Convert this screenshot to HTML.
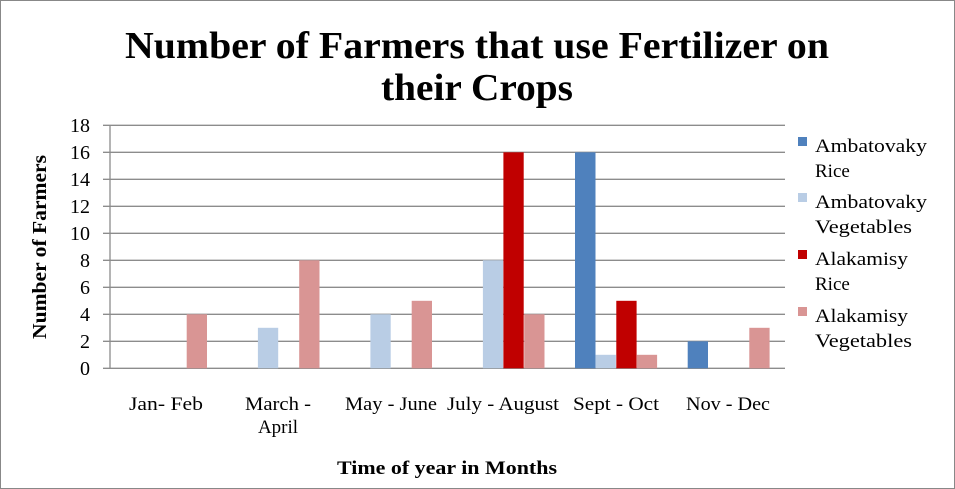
<!DOCTYPE html><html><head><style>body{margin:0;background:#fff}svg{display:block}text{font-family:"Liberation Serif",serif;fill:#000}</style></head><body>
<svg width="955" height="489" viewBox="0 0 955 489">
<rect x="0.5" y="0.5" width="954" height="488" fill="#fff" stroke="#888"/>
<text x="477" y="58" font-size="38" font-weight="bold" text-anchor="middle" textLength="704" lengthAdjust="spacingAndGlyphs">Number of Farmers that use Fertilizer on</text>
<text x="477" y="100" font-size="38" font-weight="bold" text-anchor="middle" textLength="192" lengthAdjust="spacingAndGlyphs">their Crops</text>
<g stroke="#8c8c8c" stroke-width="1.3">
<line x1="103" x2="785" y1="125.3" y2="125.3"/><line x1="103" x2="785" y1="152.3" y2="152.3"/><line x1="103" x2="785" y1="179.3" y2="179.3"/><line x1="103" x2="785" y1="206.3" y2="206.3"/><line x1="103" x2="785" y1="233.3" y2="233.3"/><line x1="103" x2="785" y1="260.3" y2="260.3"/><line x1="103" x2="785" y1="287.3" y2="287.3"/><line x1="103" x2="785" y1="314.3" y2="314.3"/><line x1="103" x2="785" y1="341.3" y2="341.3"/><line x1="103" x2="785" y1="368.3" y2="368.3"/>
<line x1="110" x2="110" y1="125" y2="368.3"/>
</g>
<g font-size="20" text-anchor="end">
<text x="90" y="132">18</text><text x="90" y="159">16</text><text x="90" y="186">14</text><text x="90" y="213">12</text><text x="90" y="240">10</text><text x="90" y="267">8</text><text x="90" y="294">6</text><text x="90" y="321">4</text><text x="90" y="348">2</text><text x="90" y="375">0</text>
</g>
<text transform="translate(46,247) rotate(-90)" font-size="20" font-weight="bold" text-anchor="middle" textLength="184" lengthAdjust="spacingAndGlyphs">Number of Farmers</text>
<g>
<rect x="186.7" y="314.3" width="20.3" height="54" fill="#d99594"/>
<rect x="257.9" y="327.8" width="20.3" height="40.5" fill="#b9cde5"/>
<rect x="299.2" y="260.3" width="20.3" height="108" fill="#d99594"/>
<rect x="370.4" y="314.3" width="20.3" height="54" fill="#b9cde5"/>
<rect x="411.7" y="300.8" width="20.3" height="67.5" fill="#d99594"/>
<rect x="482.9" y="260.3" width="20.3" height="108" fill="#b9cde5"/>
<rect x="503.4" y="152.3" width="20.3" height="216" fill="#c00000"/>
<rect x="524.2" y="314.3" width="20.3" height="54" fill="#d99594"/>
<rect x="575" y="152.3" width="20.5" height="216" fill="#4f81bd"/>
<rect x="595.6" y="354.8" width="20.3" height="13.5" fill="#b9cde5"/>
<rect x="616.3" y="300.8" width="20.3" height="67.5" fill="#c00000"/>
<rect x="636.8" y="354.8" width="20.3" height="13.5" fill="#d99594"/>
<rect x="687.7" y="341.3" width="20.3" height="27" fill="#4f81bd"/>
<rect x="749.3" y="327.8" width="20.3" height="40.5" fill="#d99594"/>
</g>
<g font-size="19" text-anchor="middle">
<text x="166" y="410" textLength="74" lengthAdjust="spacingAndGlyphs">Jan- Feb</text>
<text x="278" y="410" textLength="66" lengthAdjust="spacingAndGlyphs">March -</text><text x="278" y="433">April</text>
<text x="391" y="410" textLength="92" lengthAdjust="spacingAndGlyphs">May - June</text>
<text x="503" y="410" textLength="112" lengthAdjust="spacingAndGlyphs">July - August</text>
<text x="616" y="410" textLength="86" lengthAdjust="spacingAndGlyphs">Sept - Oct</text>
<text x="728" y="410" textLength="84" lengthAdjust="spacingAndGlyphs">Nov - Dec</text>
</g>
<text x="447" y="474" font-size="19" font-weight="bold" text-anchor="middle" textLength="220" lengthAdjust="spacingAndGlyphs">Time of year in Months</text>
<g font-size="19">
<rect x="798" y="137" width="9" height="9" fill="#4f81bd"/><text x="815" y="152" textLength="112" lengthAdjust="spacingAndGlyphs">Ambatovaky</text><text x="815" y="177">Rice</text>
<rect x="798" y="193" width="9" height="9" fill="#b9cde5"/><text x="815" y="208" textLength="112" lengthAdjust="spacingAndGlyphs">Ambatovaky</text><text x="815" y="233" textLength="97" lengthAdjust="spacingAndGlyphs">Vegetables</text>
<rect x="798" y="250" width="9" height="9" fill="#c00000"/><text x="815" y="265" textLength="93" lengthAdjust="spacingAndGlyphs">Alakamisy</text><text x="815" y="290">Rice</text>
<rect x="798" y="307" width="9" height="9" fill="#d99594"/><text x="815" y="322" textLength="93" lengthAdjust="spacingAndGlyphs">Alakamisy</text><text x="815" y="347" textLength="97" lengthAdjust="spacingAndGlyphs">Vegetables</text>
</g>
</svg></body></html>
